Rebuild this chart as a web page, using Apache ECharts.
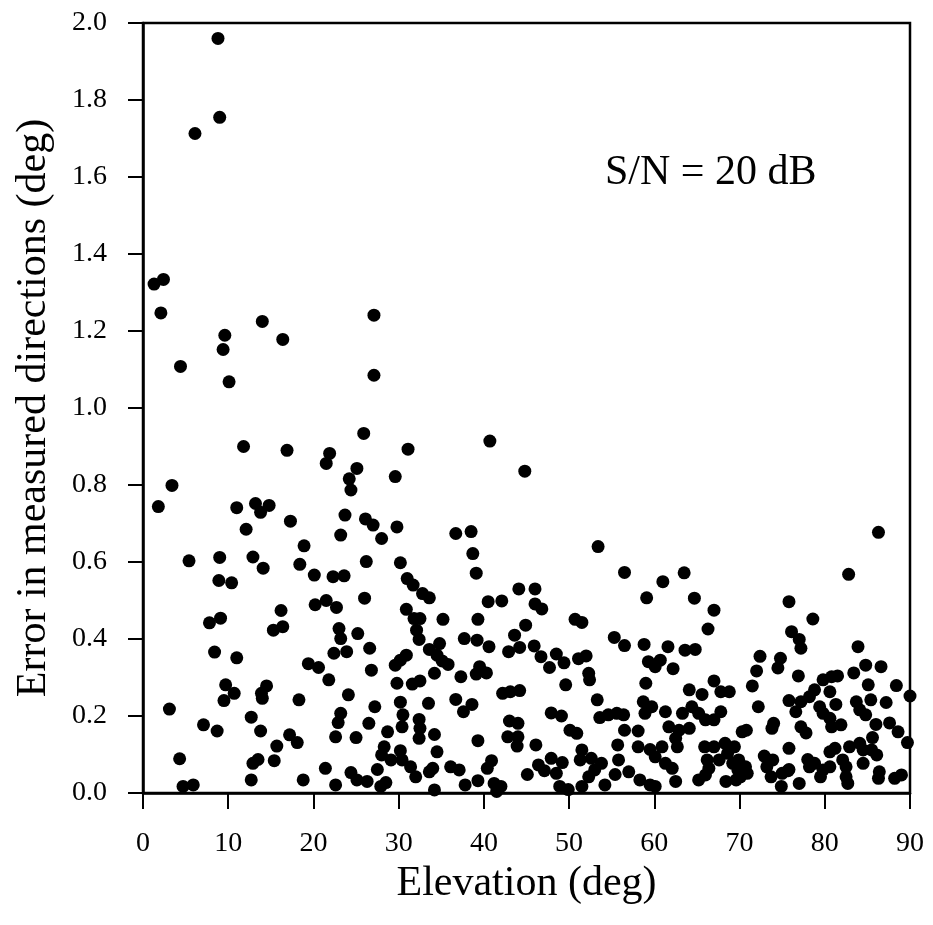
<!DOCTYPE html>
<html>
<head>
<meta charset="utf-8">
<script src="https://cdn.jsdelivr.net/npm/echarts@6/dist/echarts.min.js"></script>
<style>
  html, body { margin: 0; padding: 0; background: #fff; }
  #chart { width: 933px; height: 925px; }
</style>
</head>
<body>
<div id="chart"></div>
<script>
// elevation (deg) / error (deg) pairs
const elevation = [
  8.8, 9.0, 6.1, 1.3, 2.4, 2.1, 14.0, 27.1, 9.6, 9.4, 16.4, 4.4, 10.1, 27.1, 25.9, 11.8, 16.9, 21.9, 21.5, 25.1,
  24.2, 24.4, 29.6, 3.4, 1.8, 11.0, 13.2, 13.8, 14.8, 17.3, 12.1, 23.7, 26.1, 27.0, 23.2, 28.0, 29.8,
  31.1, 40.7, 44.8, 86.3,
  18.9, 5.4, 9.0, 12.9, 14.1, 18.4, 20.1, 22.3, 23.6, 26.2, 8.9, 10.4, 26.0, 20.2, 21.5, 22.7, 16.2, 16.4, 15.3, 7.8,
  9.1, 23.0, 23.2, 25.2, 22.4, 23.9, 26.6, 8.4, 11.0, 19.4, 20.6, 21.8, 26.8, 9.7, 10.7, 9.5, 14.5, 13.9, 14.0, 18.3,
  24.1, 3.1, 27.2, 23.2, 22.9, 12.7, 26.5, 7.1, 8.7, 13.8, 17.2, 18.1, 22.6, 25.0, 28.7, 15.7, 28.3, 28.0, 4.3, 13.5,
  12.9, 15.4, 21.4, 27.5, 24.4, 25.1, 26.3, 12.7, 18.8, 22.6, 27.9, 28.5, 4.7, 5.9, 29.1,
  36.7, 38.5, 38.7, 53.4, 30.2, 39.1, 56.5, 31.0, 31.7, 32.8, 33.6, 44.1, 46.0, 59.1, 40.5, 42.1, 46.0, 46.8, 30.9, 31.8,
  32.5, 35.2, 39.3, 44.9, 50.7, 51.5, 32.1, 32.4, 43.6, 55.3, 37.7, 39.2, 40.6, 34.8, 33.6, 45.9, 44.2, 42.9, 56.5, 58.8,
  34.5, 46.7, 48.5, 30.9, 30.2, 29.6, 35.1, 35.8, 49.4, 51.1, 52.0, 59.3, 60.1, 39.5, 47.7, 34.2, 37.3, 39.1, 40.3, 52.3,
  52.4, 29.8, 31.6, 32.5, 49.6, 59.0, 42.2, 43.1, 44.2, 30.2, 33.5, 36.7, 38.6, 37.6, 53.3, 58.7, 47.9, 49.1, 53.6, 54.6,
  55.6, 56.4, 58.9, 30.5, 30.4, 32.4, 32.5, 32.4, 34.2, 43.0, 44.0, 42.8, 44.0, 43.9, 39.3, 46.1, 50.1, 50.9, 56.5, 58.1,
  55.7, 58.1, 59.5, 51.5, 34.5, 30.2, 30.4, 31.4, 32.0, 33.6, 34.0, 36.1, 37.1, 40.9, 40.4, 47.9, 49.2, 46.4, 47.1, 48.5,
  45.1, 51.3, 52.6, 53.8, 53.0, 52.3, 55.8, 55.4, 57.0, 58.3, 59.5, 51.5, 54.2, 48.9, 49.9, 41.2, 42.0, 41.5, 39.3, 37.8,
  34.2,
  63.5, 61.0, 82.8, 64.7, 67.0, 75.8, 66.3, 78.6, 76.1, 77.0, 77.2, 83.9, 61.6, 63.6, 64.8, 72.4, 74.8, 74.5, 72.0, 60.7,
  62.2, 84.8, 86.6, 83.4, 76.9, 79.8, 80.8, 81.5, 67.0, 85.1, 88.4, 64.1, 65.6, 67.8, 68.8, 71.5, 78.8, 80.6, 90.0, 59.7,
  61.3, 63.3, 64.4, 65.2, 66.0, 67.0, 67.8, 72.2, 75.8, 77.2, 78.2, 79.4, 79.8, 76.6, 81.3, 80.6, 80.8, 81.9, 83.7, 84.1,
  84.8, 85.4, 87.2, 86.0, 87.6, 88.6, 89.7, 85.6, 61.7, 62.9, 64.1, 62.5, 62.7, 60.9, 70.3, 70.8, 73.8, 74.0, 77.2, 77.8,
  65.9, 67.0, 68.3, 69.4, 75.8, 80.6, 81.2, 82.9, 84.1, 84.5, 85.5, 86.1, 72.9, 73.9, 75.8, 78.0, 78.8, 79.8, 80.6, 82.1,
  82.5, 84.5, 86.4, 60.1, 61.3, 62.1, 66.2, 66.4, 67.6, 68.6, 69.2, 69.9, 70.7, 69.8, 68.4, 69.6, 70.1, 70.9, 65.2, 62.5,
  60.1, 73.2, 73.7, 74.9, 75.7, 77.0, 82.5, 82.7, 88.2, 89.0, 86.3, 78.2, 79.5, 75.0, 66.0
];
const errorDeg = [
  1.96, 1.755, 1.713, 1.322, 1.334, 1.247, 1.225, 1.241, 1.189, 1.152, 1.178, 1.108, 1.068, 1.085, 0.934, 0.90, 0.89, 0.882, 0.856, 0.843,
  0.816, 0.787, 0.822, 0.799, 0.744, 0.741, 0.752, 0.729, 0.747, 0.706, 0.685, 0.722, 0.712, 0.696, 0.670, 0.661, 0.691,
  0.893, 0.914, 0.836, 0.677,
  0.642, 0.603, 0.612, 0.613, 0.584, 0.594, 0.566, 0.562, 0.564, 0.601, 0.552, 0.546, 0.506, 0.489, 0.50, 0.482, 0.474, 0.432, 0.423, 0.442,
  0.454, 0.427, 0.401, 0.414, 0.363, 0.367, 0.376, 0.366, 0.351, 0.336, 0.326, 0.294, 0.319, 0.281, 0.259, 0.240, 0.278, 0.259, 0.246, 0.242,
  0.255, 0.218, 0.224, 0.207, 0.183, 0.197, 0.181, 0.177, 0.161, 0.161, 0.151, 0.131, 0.146, 0.144, 0.159, 0.122, 0.120, 0.099, 0.089, 0.087,
  0.077, 0.084, 0.064, 0.061, 0.053, 0.034, 0.030, 0.034, 0.034, 0.021, 0.017, 0.027, 0.017, 0.021, 0.086,
  0.674, 0.679, 0.622, 0.640, 0.598, 0.571, 0.573, 0.557, 0.540, 0.518, 0.507, 0.530, 0.530, 0.507, 0.497, 0.499, 0.491, 0.478, 0.477, 0.453,
  0.453, 0.451, 0.451, 0.436, 0.451, 0.443, 0.423, 0.399, 0.410, 0.404, 0.401, 0.397, 0.380, 0.388, 0.373, 0.382, 0.378, 0.367, 0.383, 0.386,
  0.358, 0.354, 0.361, 0.358, 0.345, 0.332, 0.343, 0.334, 0.338, 0.349, 0.356, 0.341, 0.328, 0.328, 0.326, 0.311, 0.302, 0.309, 0.312, 0.311,
  0.294, 0.285, 0.283, 0.291, 0.281, 0.285, 0.259, 0.263, 0.266, 0.236, 0.233, 0.243, 0.230, 0.211, 0.242, 0.237, 0.208, 0.200, 0.196, 0.203,
  0.207, 0.203, 0.207, 0.203, 0.172, 0.191, 0.168, 0.142, 0.152, 0.187, 0.181, 0.146, 0.146, 0.122, 0.136, 0.125, 0.163, 0.155, 0.163, 0.161,
  0.125, 0.120, 0.113, 0.112, 0.107, 0.110, 0.086, 0.068, 0.042, 0.055, 0.064, 0.068, 0.060, 0.084, 0.064, 0.090, 0.079, 0.073, 0.058, 0.051,
  0.048, 0.086, 0.090, 0.077, 0.060, 0.042, 0.086, 0.048, 0.055, 0.034, 0.021, 0.017, 0.021, 0.017, 0.009, 0.025, 0.017, 0.004, 0.032, 0.021,
  0.008,
  0.572, 0.549, 0.568, 0.506, 0.475, 0.497, 0.426, 0.452, 0.419, 0.399, 0.376, 0.380, 0.380, 0.371, 0.373, 0.355, 0.350, 0.325, 0.317, 0.345,
  0.323, 0.332, 0.328, 0.312, 0.304, 0.294, 0.302, 0.304, 0.291, 0.281, 0.279, 0.268, 0.256, 0.263, 0.263, 0.278, 0.268, 0.263, 0.252, 0.224,
  0.211, 0.207, 0.224, 0.207, 0.190, 0.190, 0.211, 0.224, 0.240, 0.237, 0.250, 0.224, 0.207, 0.211, 0.230, 0.194, 0.172, 0.177, 0.237, 0.216,
  0.203, 0.242, 0.235, 0.178, 0.182, 0.159, 0.131, 0.144, 0.172, 0.163, 0.168, 0.142, 0.120, 0.120, 0.159, 0.163, 0.168, 0.181, 0.172, 0.156,
  0.120, 0.120, 0.129, 0.120, 0.116, 0.107, 0.116, 0.120, 0.129, 0.112, 0.112, 0.099, 0.096, 0.086, 0.061, 0.087, 0.077, 0.060, 0.068, 0.086,
  0.068, 0.077, 0.055, 0.094, 0.077, 0.064, 0.086, 0.064, 0.086, 0.103, 0.077, 0.086, 0.068, 0.060, 0.030, 0.034, 0.042, 0.051, 0.034, 0.030,
  0.017, 0.068, 0.042, 0.017, 0.058, 0.025, 0.042, 0.025, 0.038, 0.047, 0.038, 0.068, 0.042, 0.051, 0.047
];
const xTicks = [0, 10, 20, 30, 40, 50, 60, 70, 80, 90];
const noteText = 'S/N = 20 dB';

const serif = '"Liberation Serif", "DejaVu Serif", serif';
const chart = echarts.init(document.getElementById('chart'));

const points = elevation.map((x, i) => [x, errorDeg[i]]);

const option = {
  backgroundColor: '#fff',
  animation: false,
  grid: {
    left: 143, right: 23, top: 23, bottom: 132,
    show: true, borderColor: '#000', borderWidth: 2.5, backgroundColor: 'transparent'
  },
  xAxis: {
    type: 'value',
    min: 0, max: 90, interval: 10,
    name: 'Elevation (deg)',
    nameLocation: 'middle',
    nameGap: 65,
    nameTextStyle: { fontFamily: serif, fontSize: 42, color: '#000' },
    axisLine: { lineStyle: { color: '#000', width: 2.5 } },
    axisTick: { show: true, inside: false, length: 16, lineStyle: { color: '#000', width: 2 } },
    axisLabel: {
      margin: 37, fontFamily: serif, fontSize: 28, color: '#000',
      formatter: v => xTicks.includes(v) ? String(v) : ''
    },
    splitLine: { show: false }
  },
  yAxis: {
    type: 'value',
    min: 0, max: 2, interval: 0.2,
    name: 'Error in measured directions (deg)',
    nameLocation: 'middle',
    nameGap: 88,
    nameTextStyle: { fontFamily: serif, fontSize: 42, color: '#000' },
    axisLine: { lineStyle: { color: '#000', width: 2.5 } },
    axisTick: { show: true, inside: false, length: 15, lineStyle: { color: '#000', width: 2 } },
    axisLabel: {
      margin: 36, fontFamily: serif, fontSize: 28, color: '#000',
      formatter: v => v.toFixed(1)
    },
    splitLine: { show: false }
  },
  graphic: [{
    type: 'text',
    left: 605, top: 152,
    style: { text: noteText, font: '42px ' + serif, fill: '#000' }
  }],
  series: [{
    type: 'scatter',
    data: points,
    symbol: 'circle',
    symbolSize: 13,
    itemStyle: { color: '#000', opacity: 1 },
    silent: true
  }]
};
chart.setOption(option);
</script>
</body>
</html>
